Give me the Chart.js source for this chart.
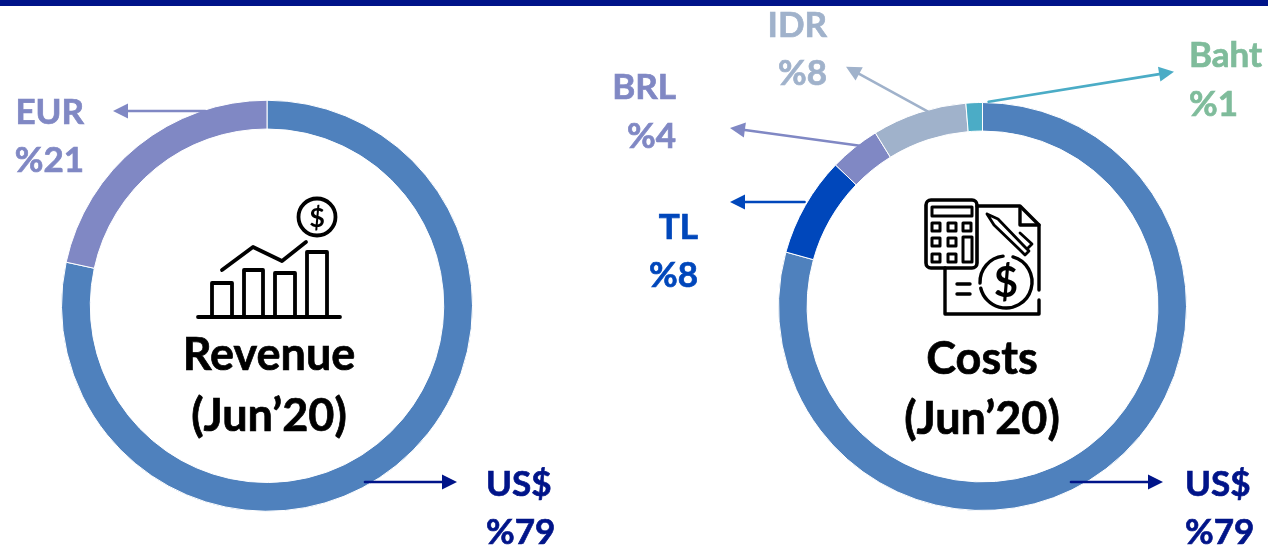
<!DOCTYPE html>
<html>
<head>
<meta charset="utf-8">
<title>Revenue and costs by currency</title>
<script src="https://cdn.jsdelivr.net/npm/chart.js@4/dist/chart.umd.js"></script>
<style>
  html, body { margin: 0; padding: 0; background: #fff; overflow: hidden; }
  #band { position: absolute; left: 0; top: 0; width: 1268px; height: 6px; background: #001489; }
  #revenue, #costs { position: absolute; top: 0; }
  #revenue { left: 0; }
  #costs { left: 600px; }
</style>
</head>
<body>
<div id="band"></div>
<canvas id="revenue" width="600" height="547"></canvas>
<canvas id="costs" width="668" height="547"></canvas>
<script>
const revenueCurrencies = ['US$', 'EUR'];
const revenueShares = [78.4, 21.6];
const revenueLabels = ['%79', '%21'];
const revenueColors = ['#4f81bd', '#8088c4'];

const costCurrencies = ['US$', 'TL', 'BRL', 'IDR', 'Baht'];
const costShares = [79.3, 7.9, 4, 7.5, 1.3];
const costLabels = ['%79', '%8', '%4', '%8', '%1'];
const costColors = ['#4f81bd', '#0047bb', '#8088c4', '#a0b2cb', '#4bacc6'];

const labelFont = 'bold 35px Lato, sans-serif';
const centerFont = 'bold 45px Lato, sans-serif';

function drawArrow(ctx, a) {
  const angle = Math.atan2(a.y2 - a.y1, a.x2 - a.x1);
  const ex = a.x2 - Math.cos(angle) * 15;
  const ey = a.y2 - Math.sin(angle) * 15;
  ctx.strokeStyle = a.color;
  ctx.fillStyle = a.color;
  ctx.lineWidth = 2.6;
  ctx.beginPath();
  ctx.moveTo(a.x1, a.y1);
  ctx.lineTo(ex, ey);
  ctx.stroke();
  ctx.beginPath();
  ctx.moveTo(a.x2, a.y2);
  ctx.lineTo(ex - Math.sin(angle) * 7.5, ey + Math.cos(angle) * 7.5);
  ctx.lineTo(ex + Math.sin(angle) * 7.5, ey - Math.cos(angle) * 7.5);
  ctx.closePath();
  ctx.fill();
}

function poly(ctx, pts) {
  ctx.beginPath();
  pts.forEach((p, i) => (i ? ctx.lineTo(p[0], p[1]) : ctx.moveTo(p[0], p[1])));
  ctx.stroke();
}

function drawRevenueIcon(ctx) {
  ctx.lineWidth = 3.8;
  poly(ctx, [[198, 317], [340, 317]]);
  [[212, 283, 20], [244, 270, 19], [275, 273, 20], [307, 252, 20]].forEach(b => {
    poly(ctx, [[b[0], 317], [b[0], b[1]], [b[0] + b[2], b[1]], [b[0] + b[2], 317]]);
  });
  poly(ctx, [[222, 270], [253, 247], [282, 261], [306, 242]]);
  ctx.beginPath();
  ctx.arc(317, 217, 18.5, 0, Math.PI * 2);
  ctx.stroke();
  ctx.fillStyle = '#000';
  ctx.font = 'bold 27px Lato, sans-serif';
  ctx.textAlign = 'center';
  ctx.fillText('$', 317, 227);
}

function drawCostIcon(ctx) {
  ctx.lineWidth = 3.6;
  ctx.beginPath();
  ctx.roundRect(926, 200, 51, 68, 5);
  ctx.stroke();
  ctx.lineWidth = 3;
  ctx.strokeRect(932, 207, 40, 9);
  [[936, 227], [952, 227], [967, 227], [936, 242], [952, 242], [936, 258], [952, 258]].forEach(p => {
    ctx.strokeRect(p[0] - 4, p[1] - 4, 8, 8);
  });
  ctx.strokeRect(963, 237, 9, 25);
  ctx.lineWidth = 3.4;
  poly(ctx, [[977, 206], [1020, 206], [1039, 225], [1039, 290]]);
  poly(ctx, [[1020, 208], [1020, 225], [1039, 225]]);
  poly(ctx, [[1039, 300], [1039, 314], [945, 314], [945, 268]]);
  ctx.lineWidth = 2.8;
  poly(ctx, [[987, 214], [998, 219], [1023, 245], [1029, 251], [1025, 255], [1019, 249], [994, 225], [987, 214]]);
  poly(ctx, [[1020, 233], [1032, 244], [1028, 248]]);
  ctx.lineWidth = 3.4;
  poly(ctx, [[957, 284], [970, 284]]);
  poly(ctx, [[957, 294], [970, 294]]);
  ctx.beginPath();
  ctx.arc(1006, 282, 26, -1.3, 2.9);
  ctx.stroke();
  ctx.beginPath();
  ctx.arc(1006, 282, 26, 3.1, 4.6);
  ctx.stroke();
  ctx.fillStyle = '#000';
  ctx.font = 'bold 42px Lato, sans-serif';
  ctx.textAlign = 'center';
  ctx.fillText('$', 1006, 297);
}

function heavyText(ctx, text, x, y, color) {
  ctx.fillStyle = color;
  ctx.strokeStyle = color;
  ctx.lineWidth = 0.7;
  ctx.fillText(text, x, y);
  ctx.strokeText(text, x, y);
}

// draws arrows, labels and the middle of the ring, in page coordinates
const notesPlugin = {
  id: 'notes',
  afterDraw(chart, args, opts) {
    const ctx = chart.ctx;
    ctx.save();
    ctx.translate(-opts.left, 0);
    ctx.lineCap = 'round';
    opts.arrows.forEach(a => drawArrow(ctx, a));
    ctx.font = labelFont;
    opts.notes.forEach(n => {
      ctx.textAlign = n.align;
      heavyText(ctx, n.name, n.x, n.y1, n.color);
      heavyText(ctx, n.value, n.x, n.y2, n.color);
    });
    ctx.font = centerFont;
    ctx.textAlign = 'center';
    opts.center.forEach(c => heavyText(ctx, c.text, c.x, c.y, '#000'));
    ctx.strokeStyle = '#000';
    ctx.lineJoin = 'round';
    opts.icon(ctx);
    ctx.restore();
  }
};

function ringChart(id, names, shares, colors, padding, notes) {
  return new Chart(document.getElementById(id), {
    type: 'doughnut',
    data: {
      labels: names,
      datasets: [{
        data: shares,
        backgroundColor: colors,
        borderColor: '#fff',
        borderWidth: 1
      }]
    },
    options: {
      responsive: false,
      animation: false,
      cutout: '86%',
      layout: { padding: padding },
      plugins: {
        legend: { display: false },
        tooltip: { enabled: false },
        notes: notes
      }
    },
    plugins: [notesPlugin]
  });
}

ringChart('revenue', revenueCurrencies, revenueShares, revenueColors,
  { left: 61, right: 127, top: 99.5, bottom: 35 },
  {
    left: 0,
    arrows: [
      { x1: 205, y1: 111, x2: 113, y2: 111, color: revenueColors[1] },
      { x1: 365, y1: 482, x2: 457, y2: 482, color: '#001489' }
    ],
    notes: [
      { name: revenueCurrencies[1], value: revenueLabels[1], x: 84, y1: 124, y2: 172, align: 'right', color: revenueColors[1] },
      { name: revenueCurrencies[0], value: revenueLabels[0], x: 486, y1: 496, y2: 544, align: 'left', color: '#001489' }
    ],
    center: [
      { text: 'Revenue', x: 269, y: 370 },
      { text: '(Jun’20)', x: 269, y: 431 }
    ],
    icon: drawRevenueIcon
  });

ringChart('costs', costCurrencies, costShares, costColors,
  { left: 178, right: 81, top: 101.5, bottom: 35.5 },
  {
    left: 600,
    arrows: [
      { x1: 988.6, y1: 101.7, x2: 1174, y2: 71.7, color: costColors[4] },
      { x1: 928, y1: 111.7, x2: 846, y2: 66.7, color: costColors[3] },
      { x1: 860, y1: 145.7, x2: 730, y2: 128, color: costColors[2] },
      { x1: 804.5, y1: 202, x2: 730, y2: 202, color: costColors[1] },
      { x1: 1071, y1: 482, x2: 1163, y2: 482, color: '#001489' }
    ],
    notes: [
      { name: costCurrencies[3], value: costLabels[3], x: 827, y1: 37, y2: 85, align: 'right', color: costColors[3] },
      { name: costCurrencies[4], value: costLabels[4], x: 1189, y1: 67, y2: 116, align: 'left', color: '#7fbc9b' },
      { name: costCurrencies[2], value: costLabels[2], x: 676, y1: 99, y2: 148, align: 'right', color: costColors[2] },
      { name: costCurrencies[1], value: costLabels[1], x: 698, y1: 239, y2: 287, align: 'right', color: costColors[1] },
      { name: costCurrencies[0], value: costLabels[0], x: 1185, y1: 496, y2: 544, align: 'left', color: '#001489' }
    ],
    center: [
      { text: 'Costs', x: 982, y: 374 },
      { text: '(Jun’20)', x: 982, y: 434 }
    ],
    icon: drawCostIcon
  });
</script>
</body>
</html>
